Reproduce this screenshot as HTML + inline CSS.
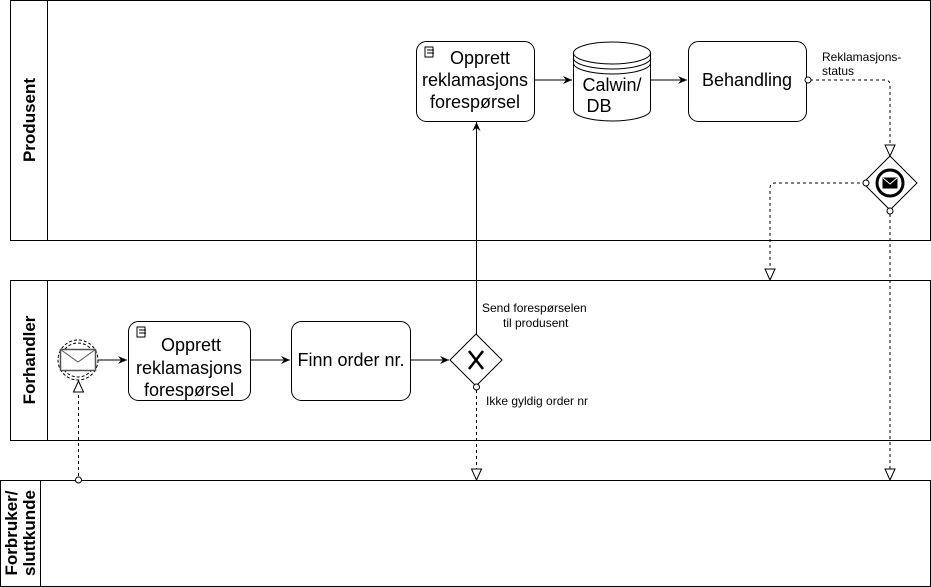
<!DOCTYPE html>
<html><head><style>body{margin:0;background:#fff}svg{display:block}text{font-family:"Liberation Sans",sans-serif}</style></head><body>
<svg width="931" height="587" viewBox="0 0 931 587" xmlns="http://www.w3.org/2000/svg">
<defs>
<marker id="a" markerWidth="10" markerHeight="10" refX="9" refY="5" orient="auto" markerUnits="userSpaceOnUse"><path d="M0,1 L9,5 L0,9 L3,5 Z" fill="#000"/></marker>
<marker id="o" markerWidth="14" markerHeight="14" refX="12" refY="6" orient="auto" markerUnits="userSpaceOnUse"><path d="M1,1 L12,6 L1,11 Z" fill="#fff" stroke="#000"/></marker>
</defs>
<g fill="none" stroke="#000" stroke-width="1">
<rect x="10.5" y="0.5" width="920" height="240"/><line x1="47.5" y1="0" x2="47.5" y2="240"/>
<rect x="10.5" y="280.5" width="920" height="160"/><line x1="47.5" y1="280" x2="47.5" y2="440"/>
<rect x="0.5" y="480.5" width="930" height="106"/><line x1="40.5" y1="480" x2="40.5" y2="587"/>
<rect x="416.5" y="41.5" width="118" height="80" rx="10" fill="#fff"/>
<rect x="688.5" y="41.5" width="118" height="80" rx="10" fill="#fff"/>
<rect x="128.5" y="321.5" width="122" height="79" rx="10" fill="#fff"/>
<rect x="291.5" y="321.5" width="119" height="79" rx="10" fill="#fff"/>
<path d="M573.5,53 A38.5,11 0 0 1 650.5,53 L650.5,110 A38.5,11 0 0 1 573.5,110 Z" fill="#fff"/>
<path d="M573.5,53 A38.5,11 0 0 0 650.5,53 M573.5,58 A38.5,11 0 0 0 650.5,58 M573.5,63 A38.5,11 0 0 0 650.5,63"/>
<path d="M890,156 L917,183 L890,210 L863,183 Z" fill="#fff"/>
<circle cx="890" cy="183" r="13" stroke-width="3"/>
<rect x="883" y="178" width="14" height="10" fill="#000"/>
<path d="M883,178 L890,184 L897,178" stroke="#fff"/>
<path d="M476,334 L502,360 L476,386 L450,360 Z" fill="#fff"/>
<path d="M469,351 L483,369 M483,351 L469,369" stroke-width="2.5"/>
<circle cx="78" cy="360" r="20" stroke-dasharray="3,2"/>
<circle cx="78" cy="360" r="17" stroke-dasharray="3,2"/>
<rect x="60.5" y="349.5" width="35" height="21" stroke="#555" stroke-width="1.5" fill="#fff"/>
<path d="M60.5,349.5 L78,362 L95.5,349.5" stroke="#555"/>
<line x1="98" y1="360" x2="127" y2="360" marker-end="url(#a)"/>
<line x1="534" y1="80" x2="572" y2="80" marker-end="url(#a)"/>
<line x1="650" y1="80" x2="687" y2="80" marker-end="url(#a)"/>
<line x1="250" y1="360" x2="290" y2="360" marker-end="url(#a)"/>
<line x1="410" y1="360" x2="449" y2="360" marker-end="url(#a)"/>
<line x1="476.5" y1="334" x2="476.5" y2="122" marker-end="url(#a)"/>
<g stroke-dasharray="3,3">
<path d="M810,80 L885,80 Q890,80 890,85 L890,156" marker-end="url(#o)"/>
<path d="M860,183 L775,183 Q770,183 770,188 L770,280" marker-end="url(#o)"/>
<path d="M890,214 L890,480" marker-end="url(#o)"/>
<path d="M476.5,390 L476.5,480" marker-end="url(#o)"/>
<path d="M78.5,476 L78.5,381" marker-end="url(#o)"/>
</g>
<g fill="#fff"><circle cx="808" cy="80" r="3"/><circle cx="866" cy="183" r="3"/><circle cx="890" cy="211" r="3"/><circle cx="476.5" cy="387" r="3"/><circle cx="78.5" cy="480" r="3"/></g>
<path d="M425,47 h8 v10 h-8 z M427,50 h7 M427,53 h7" stroke-width="1"/>
<path d="M137,327 h8 v10 h-8 z M139,330 h7 M139,333 h7" stroke-width="1"/>
</g>
<g font-size="18" fill="#000" text-anchor="middle">
<text x="480" y="64">Opprett</text><text x="475" y="86">reklamasjons</text><text x="475" y="108">forespørsel</text>
<text x="612" y="91">Calwin/</text><text x="599" y="112">DB</text>
<text x="747" y="86">Behandling</text>
<text x="191" y="351">Opprett</text><text x="189" y="374">reklamasjons</text><text x="189" y="396">forespørsel</text>
<text x="351" y="366">Finn order nr.</text>
</g>
<g font-size="12" fill="#000">
<text x="822" y="61">Reklamasjons-</text><text x="822" y="75">status</text>
<text x="482" y="312">Send forespørselen</text><text x="503" y="327">til produsent</text>
<text x="486" y="405">Ikke gyldig order nr</text>
</g>
<g font-size="17" font-weight="bold" fill="#000" text-anchor="middle">
<text transform="translate(35,120) rotate(-90)">Produsent</text>
<text transform="translate(35,360) rotate(-90)">Forhandler</text>
<text transform="translate(17,533) rotate(-90)">Forbruker/</text>
<text transform="translate(35,533) rotate(-90)">sluttkunde</text>
</g>
</svg>
</body></html>
